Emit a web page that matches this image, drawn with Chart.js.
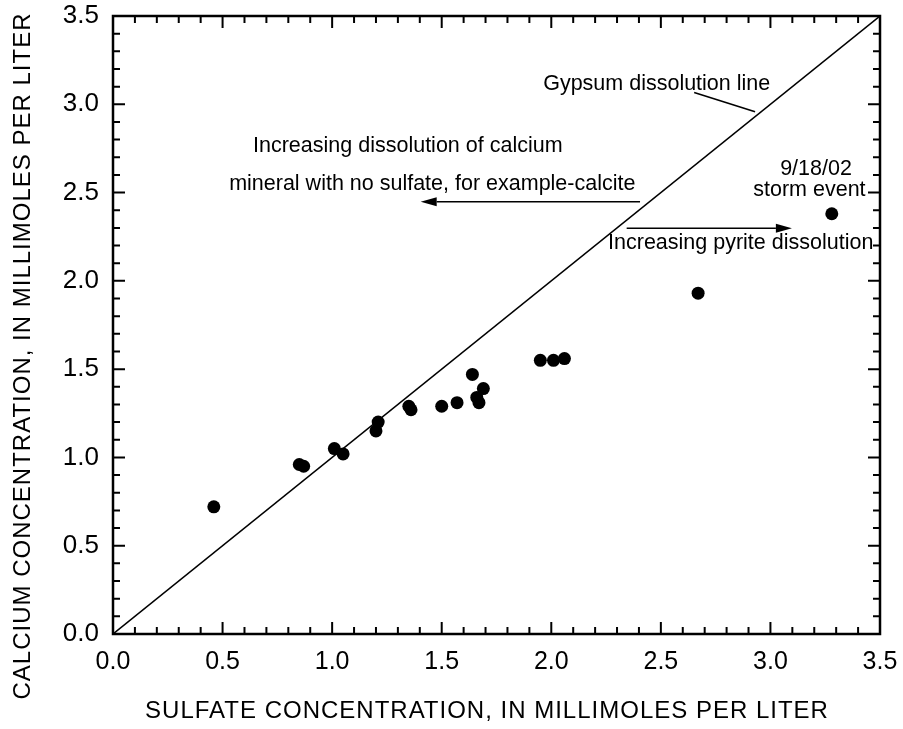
<!DOCTYPE html>
<html>
<head>
<meta charset="utf-8">
<script src="https://cdn.jsdelivr.net/npm/chart.js@4/dist/chart.umd.min.js"></script>
<style>
  html, body { margin: 0; padding: 0; background: #fff; }
  #wrap { width: 903px; height: 729px; }
</style>
</head>
<body>
<div id="wrap"><canvas id="calcioChart"></canvas></div>
<script>
// valores (milimoles por litro)
const sulfato = [0.46, 0.85, 0.87, 1.01, 1.05, 1.20, 1.21, 1.35, 1.36, 1.50, 1.57, 1.64, 1.69, 1.66, 1.67, 1.95, 2.01, 2.06, 2.67, 3.28];
const calcio  = [0.72, 0.96, 0.95, 1.05, 1.02, 1.15, 1.20, 1.29, 1.27, 1.29, 1.31, 1.47, 1.39, 1.34, 1.31, 1.55, 1.55, 1.56, 1.93, 2.38];
const lineaYeso = [0, 3.5];
const marcas = [0.0, 0.5, 1.0, 1.5, 2.0, 2.5, 3.0, 3.5];

const tituloX = 'SULFATE CONCENTRATION, IN MILLIMOLES PER LITER';
const tituloY = 'CALCIUM CONCENTRATION, IN MILLIMOLES PER LITER';

// notas sobre la grafica, en unidades de los ejes
const notas = [
  { texto: 'Gypsum dissolution line', x: 1.963, y: 3.080, align: 'left' },
  { texto: 'Increasing dissolution of calcium', x: 0.639, y: 2.729, align: 'left' },
  { texto: 'mineral with no sulfate, for example-calcite', x: 0.530, y: 2.512, align: 'left' },
  { texto: '9/18/02', x: 3.208, y: 2.602, align: 'center' },
  { texto: 'storm event', x: 3.178, y: 2.478, align: 'center' },
  { texto: 'Increasing pyrite dissolution', x: 2.259, y: 2.182, align: 'left' }
];
const trazos = [
  { x1: 2.652, y1: 3.067, x2: 2.930, y2: 2.958, flecha: false },
  { x1: 2.405, y1: 2.448, x2: 1.404, y2: 2.448, flecha: true },
  { x1: 2.344, y1: 2.298, x2: 3.098, y2: 2.298, flecha: true }
];

const fuente = '"Liberation Sans", Arial, sans-serif';

const marcoPlugin = {
  id: 'marco',
  afterDraw(chart) {
    const { ctx, chartArea: a, scales } = chart;
    const sx = scales.x, sy = scales.y;
    ctx.save();
    ctx.strokeStyle = '#000';
    // marcas hacia dentro en los cuatro lados
    ctx.lineWidth = 2;
    ctx.beginPath();
    for (let i = 0; i <= 35; i++) {
      const v = i / 10;
      const largo = (i % 5 === 0) ? 12 : 7;
      const px = sx.getPixelForValue(v);
      const py = sy.getPixelForValue(v);
      ctx.moveTo(px, a.bottom); ctx.lineTo(px, a.bottom - largo);
      ctx.moveTo(px, a.top); ctx.lineTo(px, a.top + largo);
      ctx.moveTo(a.left, py); ctx.lineTo(a.left + largo, py);
      ctx.moveTo(a.right, py); ctx.lineTo(a.right - largo, py);
    }
    ctx.stroke();
    ctx.lineWidth = 2.5;
    ctx.strokeRect(a.left, a.top, a.right - a.left, a.bottom - a.top);

    // titulos de los ejes (algo espaciados, como en el original)
    ctx.fillStyle = '#000';
    ctx.font = '24px ' + fuente;
    ctx.letterSpacing = '1px';
    ctx.textAlign = 'center';
    ctx.textBaseline = 'alphabetic';
    ctx.fillText(tituloX, 487, 718);
    ctx.save();
    ctx.translate(30, 356);
    ctx.rotate(-Math.PI / 2);
    ctx.fillText(tituloY, 0, 0);
    ctx.restore();
    ctx.letterSpacing = '0px';

    // textos
    ctx.font = '21.5px ' + fuente;
    notas.forEach(n => {
      ctx.textAlign = n.align;
      ctx.fillText(n.texto, sx.getPixelForValue(n.x), sy.getPixelForValue(n.y));
    });

    // lineas y flechas
    ctx.lineWidth = 1.6;
    trazos.forEach(t => {
      const x1 = sx.getPixelForValue(t.x1), y1 = sy.getPixelForValue(t.y1);
      const x2 = sx.getPixelForValue(t.x2), y2 = sy.getPixelForValue(t.y2);
      const ang = Math.atan2(y2 - y1, x2 - x1);
      const cab = 16;
      const finX = t.flecha ? x2 - Math.cos(ang) * cab : x2;
      const finY = t.flecha ? y2 - Math.sin(ang) * cab : y2;
      ctx.beginPath();
      ctx.moveTo(x1, y1);
      ctx.lineTo(finX, finY);
      ctx.stroke();
      if (t.flecha) {
        ctx.beginPath();
        ctx.moveTo(x2, y2);
        ctx.lineTo(x2 - Math.cos(ang) * cab - Math.sin(ang) * 4.5, y2 - Math.sin(ang) * cab + Math.cos(ang) * 4.5);
        ctx.lineTo(x2 - Math.cos(ang) * cab + Math.sin(ang) * 4.5, y2 - Math.sin(ang) * cab - Math.cos(ang) * 4.5);
        ctx.closePath();
        ctx.fill();
      }
    });
    ctx.restore();
  }
};

const ctx = document.getElementById('calcioChart').getContext('2d');
const chart = new Chart(ctx, {
  type: 'scatter',
  data: {
    datasets: [
      {
        label: 'Muestras',
        data: sulfato.map((s, i) => ({ x: s, y: calcio[i] })),
        backgroundColor: '#000',
        borderWidth: 0,
        pointRadius: 6.5,
        pointHoverRadius: 6.5
      },
      {
        label: 'Gypsum dissolution line',
        type: 'line',
        data: lineaYeso.map(v => ({ x: v, y: v })),
        borderColor: '#000',
        borderWidth: 1.5,
        pointRadius: 0,
        fill: false
      }
    ]
  },
  options: {
    responsive: true,
    maintainAspectRatio: false,
    animation: false,
    events: [],
    layout: { padding: { top: 16, right: 23, left: 0, bottom: 0 } },
    plugins: {
      legend: { display: false },
      tooltip: { enabled: false }
    },
    scales: {
      x: {
        type: 'linear',
        min: 0,
        max: 3.5,
        afterBuildTicks: s => { s.ticks = marcas.map(v => ({ value: v })); },
        afterFit: s => { s.height = 95; s.paddingLeft = 0; s.paddingRight = 0; },
        grid: { display: false, drawTicks: false },
        border: { display: false },
        ticks: {
          color: '#000',
          padding: 13,
          font: { family: fuente, size: 25 },
          callback: v => v.toFixed(1)
        },
        title: { display: false, text: tituloX }
      },
      y: {
        type: 'linear',
        min: 0,
        max: 3.5,
        afterBuildTicks: s => { s.ticks = marcas.map(v => ({ value: v })); },
        afterFit: s => { s.width = 113; s.paddingTop = 0; s.paddingBottom = 0; },
        grid: { display: false, drawTicks: false },
        border: { display: false },
        ticks: {
          color: '#000',
          padding: 14,
          font: { family: fuente, size: 26 },
          callback: v => v.toFixed(1)
        },
        title: { display: false, text: tituloY }
      }
    }
  },
  plugins: [marcoPlugin]
});
</script>
</body>
</html>
